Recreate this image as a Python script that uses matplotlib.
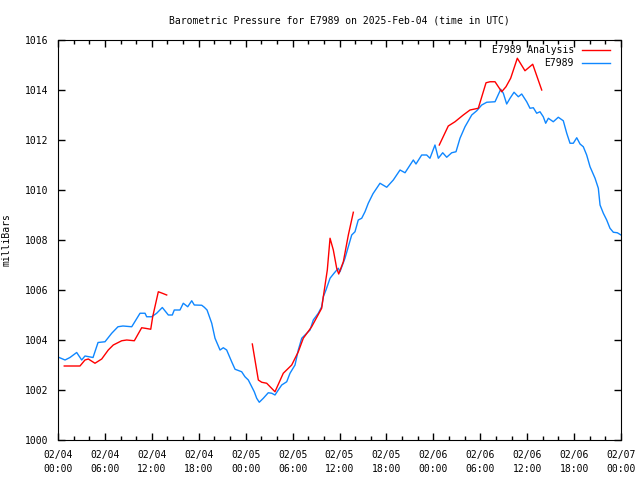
import numpy as np
import matplotlib
matplotlib.use("Agg")
import matplotlib.pyplot as plt

# horas desde 2025-02-04 00:00 UTC
obs_horas = [0.0, 0.9, 1.53, 2.39, 3.03, 3.45, 4.48, 5.12, 6.01, 6.87, 7.67, 8.31, 9.43,
             10.49, 11.13, 11.34, 11.98, 12.62, 13.34, 14.11, 14.62, 14.87, 15.6, 16.02,
             16.59, 17.1, 17.43, 18.38, 18.71, 19.06, 19.66, 20.08, 20.72, 21.14, 21.57,
             22.21, 22.64, 23.49, 23.91, 24.34, 24.77, 25.1, 25.41, 25.74, 26.26, 26.89,
             27.33, 27.75, 28.17, 28.61, 29.25, 29.67, 30.31, 30.73, 31.17, 31.59, 32.23,
             32.65, 33.29, 33.72, 33.93, 34.27, 34.79, 35.3, 35.85, 36.06, 36.7, 37.13,
             37.56, 37.98, 38.4, 38.84, 39.26, 39.68, 40.28, 41.18, 42.04, 42.88, 43.74,
             44.38, 45.44, 45.78, 46.51, 47.15, 47.57, 48.21, 48.64, 49.2, 49.71, 50.35,
             50.9, 51.41, 52.05, 52.91, 53.55, 54.19, 54.83, 55.89, 56.62, 56.95, 57.38,
             57.81, 58.32, 58.87, 59.3, 59.94, 60.36, 60.79, 61.22, 61.64, 62.06, 62.37,
             62.71, 63.34, 63.98, 64.62, 65.06, 65.48, 65.9, 66.34, 66.76, 67.18, 67.61,
             68.04, 68.68, 69.1, 69.32, 69.74, 70.17, 70.59, 71.02, 71.53, 71.78, 72.0]
obs_mb = [1003.32, 1003.2, 1003.3, 1003.5, 1003.2, 1003.36, 1003.3, 1003.9, 1003.93,
          1004.27, 1004.53, 1004.56, 1004.53, 1005.07, 1005.07, 1004.93, 1004.93, 1005.07,
          1005.3, 1005.0, 1005.0, 1005.2, 1005.2, 1005.47, 1005.33, 1005.57, 1005.4,
          1005.39, 1005.31, 1005.2, 1004.67, 1004.07, 1003.6, 1003.69, 1003.6, 1003.13,
          1002.83, 1002.73, 1002.53, 1002.4, 1002.13, 1001.93, 1001.67, 1001.51, 1001.67,
          1001.89, 1001.87, 1001.8, 1002.0, 1002.2, 1002.33, 1002.67, 1003.0, 1003.6,
          1004.07, 1004.2, 1004.4, 1004.8, 1005.07, 1005.33, 1005.73, 1006.0, 1006.47,
          1006.67, 1006.87, 1006.73, 1007.27, 1007.73, 1008.2, 1008.33, 1008.8, 1008.87,
          1009.13, 1009.47, 1009.85, 1010.27, 1010.11, 1010.4, 1010.8, 1010.69, 1011.2,
          1011.04, 1011.4, 1011.4, 1011.27, 1011.8, 1011.27, 1011.49, 1011.31, 1011.49,
          1011.53, 1012.07, 1012.53, 1013.0, 1013.17, 1013.4, 1013.51, 1013.53, 1014.03,
          1013.87, 1013.44, 1013.67, 1013.91, 1013.73, 1013.84, 1013.53, 1013.27, 1013.29,
          1013.07, 1013.13, 1012.93, 1012.67, 1012.87, 1012.73, 1012.91, 1012.77, 1012.27,
          1011.87, 1011.87, 1012.09, 1011.84, 1011.73, 1011.4, 1010.93, 1010.47, 1010.07,
          1009.4, 1009.07, 1008.8, 1008.47, 1008.31, 1008.29, 1008.24, 1008.2]

# analise (tres trechos separados por NaN)
ana_horas = [0.8, 2.81, 3.45, 3.88, 4.73, 5.59, 6.43, 7.07, 8.15, 8.79, 9.76, 10.7, 11.13,
             11.86, 12.11, 12.83, 13.34, 13.9, np.nan,
             24.85, 25.62, 26.05, 26.69, 27.75, 28.81, 29.89, 30.73, 31.37, 32.44, 33.72,
             33.93, 34.44, 34.79, 35.21, 35.64, 35.9, 36.49, 37.13, 37.77, np.nan,
             48.76, 49.91, 50.77, 51.83, 52.69, 53.75, 54.74, 55.25, 55.89, 56.74, 57.29,
             57.89, 58.74, 59.72, 60.71, 61.86]
ana_mb = [1002.96, 1002.96, 1003.2, 1003.24, 1003.07, 1003.24, 1003.6, 1003.8, 1003.97,
          1004.0, 1003.97, 1004.49, 1004.47, 1004.43, 1004.93, 1005.93, 1005.87, 1005.8, np.nan,
          1003.84, 1002.4, 1002.31, 1002.27, 1001.93, 1002.67, 1003.0, 1003.53, 1004.07,
          1004.53, 1005.27, 1005.73, 1006.8, 1008.07, 1007.6, 1006.87, 1006.64, 1007.13,
          1008.2, 1009.11, np.nan,
          1011.8, 1012.56, 1012.73, 1013.0, 1013.2, 1013.27, 1014.29, 1014.33, 1014.33,
          1013.93, 1014.13, 1014.47, 1015.27, 1014.77, 1015.03, 1014.0]

tick_horas = list(range(0, 73, 6))
tick_labels = ["02/04\n00:00", "02/04\n06:00", "02/04\n12:00", "02/04\n18:00",
               "02/05\n00:00", "02/05\n06:00", "02/05\n12:00", "02/05\n18:00",
               "02/06\n00:00", "02/06\n06:00", "02/06\n12:00", "02/06\n18:00",
               "02/07\n00:00"]

plt.rcParams["font.family"] = "DejaVu Sans Mono"
plt.rcParams["font.size"] = 7

fig = plt.figure(figsize=(6.4, 4.8), dpi=100)
ax = fig.add_axes([58/640, 40/480, 563/640, 400/480])

ax.plot(obs_horas, obs_mb, color="#0f87ff", lw=1.0)
ax.plot(ana_horas, ana_mb, color="#ff0000", lw=1.0)

ax.set_xlim(0, 72)
ax.set_ylim(1000, 1016)
ax.set_xticks(tick_horas)
ax.set_xticklabels(tick_labels, linespacing=1.5)
ax.set_xticks(range(0, 73, 2), minor=True)
ax.set_yticks(range(1000, 1017, 2))
ax.tick_params(which="both", direction="in", top=True, right=True, width=1)
ax.tick_params(which="major", length=5, pad=7)
ax.tick_params(which="minor", length=3)

ax.set_ylabel("milliBars")
ax.yaxis.set_label_coords(-0.082, 0.5)
ax.set_title("Barometric Pressure for E7989 on 2025-Feb-04 (time in UTC)",
             fontsize=7, pad=12)

# legenda estilo gnuplot (texto alinhado a direita)
ax.text(0.9165, 0.975, "E7989 Analysis", transform=ax.transAxes, ha="right", va="center")
ax.plot([0.930, 0.980], [0.975, 0.975], transform=ax.transAxes, color="#ff0000", lw=1.0)
ax.text(0.9165, 0.943, "E7989", transform=ax.transAxes, ha="right", va="center")
ax.plot([0.930, 0.980], [0.943, 0.943], transform=ax.transAxes, color="#0f87ff", lw=1.0)

fig.savefig("out.png", dpi=100)
